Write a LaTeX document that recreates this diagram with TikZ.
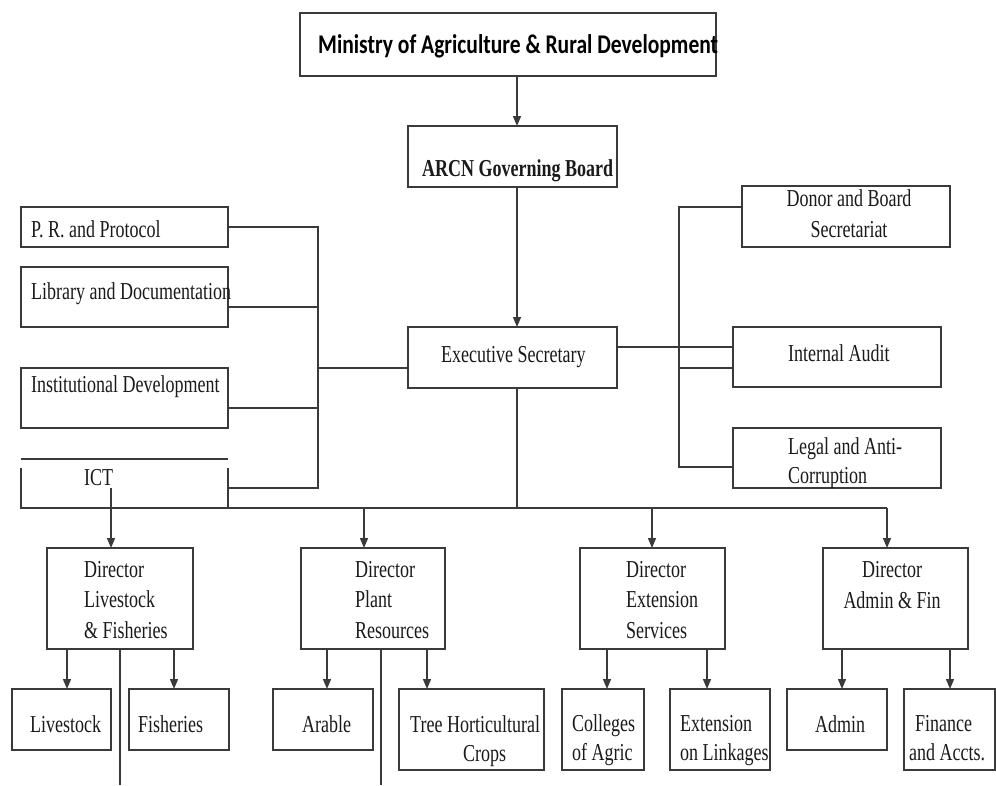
\documentclass[tikz,border=0pt]{standalone}
\usepackage{fontspec}
\setmainfont{Liberation Serif}
\newfontfamily\carl{Carlito}
\usetikzlibrary{arrows.meta}
\definecolor{ln}{HTML}{3A3A3A}
\definecolor{tx}{HTML}{1A1A1A}
\newcommand{\sx}[1]{\scalebox{1}[1.35]{#1}}
\begin{document}
\begin{tikzpicture}[x=1pt,y=-1pt,
  box/.style={draw=ln, line width=1.5pt, inner sep=0pt, outer sep=0pt, anchor=north west},
  conn/.style={draw=ln, line width=1.4pt},
  arr/.style={conn, -{Triangle[length=10pt,width=8pt]}},
  txt/.style={inner sep=0pt, text=tx, font=\fontsize{18}{30.5}\selectfont, align=left, anchor=base west},
  ctxt/.style={txt, align=center, anchor=base},
  tight/.style={font=\fontsize{18}{28.5}\selectfont}]
\useasboundingbox (0,0) rectangle (996,785);
% x positions of connectors
\coordinate (sp) at (517,0);
\coordinate (lv) at (318,0);
\coordinate (rv) at (679,0);
\coordinate (a1) at (111,488);
\coordinate (a2) at (364,508);
\coordinate (a3) at (652,508);
\coordinate (a4) at (887,508);
\coordinate (b11) at (67,0);
\coordinate (b12) at (174,0);
\coordinate (b21) at (327,0);
\coordinate (b22) at (427,0);
\coordinate (b31) at (607,0);
\coordinate (b32) at (707,0);
\coordinate (b41) at (842,0);
\coordinate (b42) at (950,0);
\coordinate (m1) at (120,785);
\coordinate (m2) at (381,785);
% boxes
\node[box, minimum width=416pt, minimum height=63pt] (min) at (300,13) {};
\node[box, minimum width=209pt, minimum height=61pt] (arcn) at (408,126) {};
\node[box, minimum width=209pt, minimum height=61pt] (exec) at (408,327) {};
\node[box, minimum width=207pt, minimum height=40pt] (pr) at (21,207) {};
\node[box, minimum width=207pt, minimum height=60pt] (lib) at (21,267) {};
\node[box, minimum width=207pt, minimum height=60pt] (inst) at (21,368) {};
\node[box, draw=none, minimum width=207pt, minimum height=49pt] (ict) at (21,459) {};
\node[box, minimum width=208pt, minimum height=61pt] (donor) at (742,186) {};
\node[box, minimum width=208pt, minimum height=60pt] (audit) at (733,327) {};
\node[box, minimum width=208pt, minimum height=60pt] (legal) at (733,428) {};
\node[box, minimum width=146pt, minimum height=101pt] (d1) at (47,548) {};
\node[box, minimum width=144pt, minimum height=101pt] (d2) at (301,548) {};
\node[box, minimum width=145pt, minimum height=101pt] (d3) at (580,548) {};
\node[box, minimum width=145pt, minimum height=101pt] (d4) at (823,548) {};
\node[box, minimum width=99pt, minimum height=61pt] (liv) at (12,689) {};
\node[box, minimum width=100pt, minimum height=61pt] (fish) at (129,689) {};
\node[box, minimum width=100pt, minimum height=61pt] (arable) at (273,689) {};
\node[box, minimum width=145pt, minimum height=81pt] (tree) at (399,689) {};
\node[box, minimum width=82pt, minimum height=81pt] (coll) at (562,689) {};
\node[box, minimum width=100pt, minimum height=81pt] (ext) at (670,689) {};
\node[box, minimum width=100pt, minimum height=61pt] (admin) at (787,689) {};
\node[box, minimum width=91pt, minimum height=81pt] (fin) at (904,689) {};
% ICT open box
\draw[box] (ict.north west) -- (ict.north east);
\draw[box] ([yshift=-9pt]ict.north west) -- (ict.south west) -- (ict.south east) -- ([yshift=-9pt]ict.north east);
% texts (multi-line nodes are placed by the baseline of their last line)
\node[txt, font=\carl\bfseries\fontsize{20}{24}\selectfont, text=black] (min-t) at (318,53) {\scalebox{1.078}[1.35]{Ministry of Agriculture \& Rural Development}};
\node[txt, font=\bfseries\fontsize{18}{24}\selectfont] (arcn-t) at (422,176) {\sx{ARCN Governing Board}};
\node[txt] (exec-t) at (441,362) {\sx{Executive Secretary}};
\node[txt] (pr-t) at (31,237) {\sx{P. R. and Protocol}};
\node[txt] (lib-t) at (31,299) {\sx{Library and Documentation}};
\node[txt] (inst-t) at (31,392) {\sx{Institutional Development}};
\node[txt] (ict-t) at (84,485) {\sx{ICT}};
\node[ctxt] (donor-t) at (849,237) {\sx{Donor and Board}\\\sx{Secretariat}};
\node[txt] (audit-t) at (788,361) {\sx{Internal Audit}};
\node[txt, tight] (legal-t) at (788,483) {\sx{Legal and Anti-}\\\sx{Corruption}};
\node[txt] (d1-t) at (84,638) {\sx{Director}\\\sx{Livestock}\\\sx{\& Fisheries}};
\node[txt] (d2-t) at (355,638) {\sx{Director}\\\sx{Plant}\\\sx{Resources}};
\node[txt] (d3-t) at (626,638) {\sx{Director}\\\sx{Extension}\\\sx{Services}};
\node[ctxt] (d4-t) at (892,608) {\sx{Director}\\\sx{Admin \& Fin}};
\node[txt] (liv-t) at (30,732) {\sx{Livestock}};
\node[txt] (fish-t) at (138,732) {\sx{Fisheries}};
\node[txt] (arable-t) at (302,732) {\sx{Arable}};
\node[txt, tight] (tree-t) at (410,761) {\sx{Tree Horticultural}\\\hspace*{53pt}\sx{Crops}};
\node[txt, tight] (coll-t) at (572,760) {\sx{Colleges}\\\sx{of Agric}};
\node[txt, tight] (ext-t) at (680,760) {\sx{Extension}\\\sx{on Linkages}};
\node[txt] (admin-t) at (815,732) {\sx{Admin}};
\node[txt, tight] (fin-t) at (915,760) {\sx{Finance}\\\hspace*{-6pt}\sx{and Accts.}};
% top spine
\draw[arr] (min.south -| sp) -- (arcn.north -| sp);
\draw[arr] (arcn.south -| sp) -- (exec.north -| sp);
\draw[conn] (exec.south -| sp) -- (sp |- a4);
% bus
\draw[conn] (ict.south west) -- (a4);
\draw[arr] (a1) -- (d1.north -| a1);
\draw[arr] (a2) -- (d2.north -| a2);
\draw[arr] (a3) -- (d3.north -| a3);
\draw[arr] (a4) -- (d4.north -| a4);
% left staff units
\draw[conn] (pr.east) -- (pr.east -| lv) -- (lv |- a1) -- ([yshift=-4.5pt]ict.east);
\draw[conn] ([yshift=-10pt]lib.east) -- ([yshift=-10pt]lib.east -| lv);
\draw[conn] ([yshift=-10pt]inst.east) -- ([yshift=-10pt]inst.east -| lv);
\draw[conn] ([yshift=-10.5pt]exec.west) -- ([yshift=-10.5pt]exec.west -| lv);
% right staff units
\draw[conn] ([yshift=9.5pt]donor.west) -- ([yshift=9.5pt]donor.west -| rv) -- ([yshift=-9pt]legal.west -| rv) -- ([yshift=-9pt]legal.west);
\draw[conn] ([yshift=10.5pt]exec.east) -- ([yshift=10.5pt]exec.east -| audit.west);
\draw[conn] ([yshift=-11pt]audit.west -| rv) -- ([yshift=-11pt]audit.west);
% lower units
\draw[arr] (d1.south -| b11) -- (liv.north -| b11);
\draw[arr] (d1.south -| b12) -- (fish.north -| b12);
\draw[conn] (d1.south -| m1) -- (m1);
\draw[arr] (d2.south -| b21) -- (arable.north -| b21);
\draw[arr] (d2.south -| b22) -- (tree.north -| b22);
\draw[conn] (d2.south -| m2) -- (m2);
\draw[arr] (d3.south -| b31) -- (coll.north -| b31);
\draw[arr] (d3.south -| b32) -- (ext.north -| b32);
\draw[arr] (d4.south -| b41) -- (admin.north -| b41);
\draw[arr] (d4.south -| b42) -- (fin.north -| b42);
\end{tikzpicture}
\end{document}
